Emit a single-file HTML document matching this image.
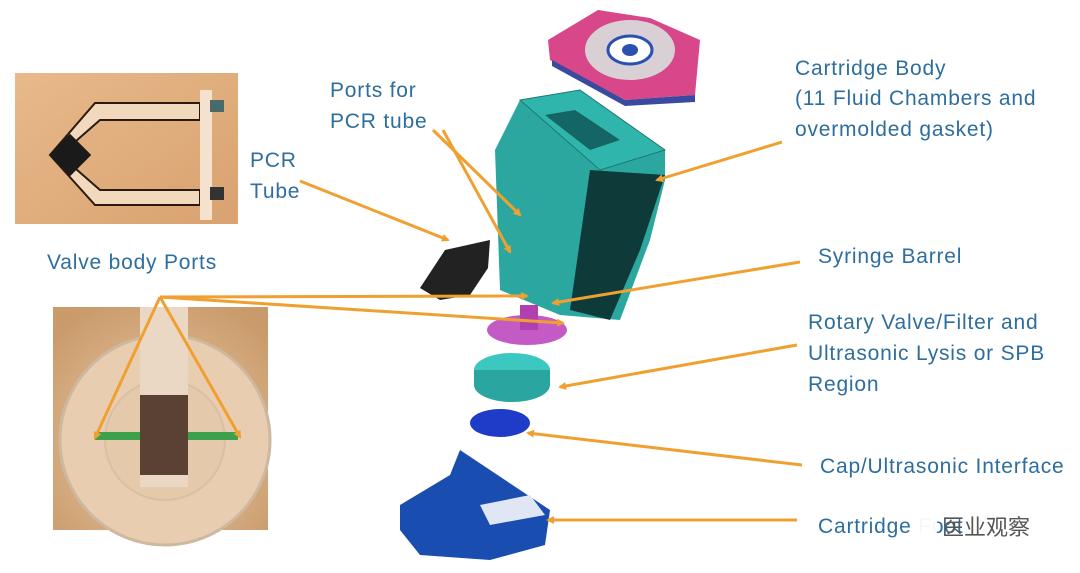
<!DOCTYPE html>
<html><head><meta charset="utf-8"><style>
html,body{margin:0;padding:0;background:#fff}
svg{display:block}
text{font-family:"Liberation Sans","Noto Sans CJK SC",sans-serif;font-size:21px;letter-spacing:0.8px;fill:#2e6e9e}
</style></head><body>
<svg width="1080" height="573" viewBox="0 0 1080 573" xmlns="http://www.w3.org/2000/svg">
<defs>
<marker id="a" markerWidth="8" markerHeight="8" refX="6" refY="4" orient="auto" markerUnits="userSpaceOnUse"><path d="M0,0 L8,4 L0,8 z" fill="#f0a030"/></marker>
<linearGradient id="bg1" x1="0" y1="0" x2="1" y2="1"><stop offset="0" stop-color="#e8b98a"/><stop offset="1" stop-color="#d9a270"/></linearGradient>
<radialGradient id="bg2" cx="0.5" cy="0.6" r="0.7"><stop offset="0" stop-color="#e9c9a6"/><stop offset="1" stop-color="#c99a6a"/></radialGradient>
</defs>
<rect x="15" y="73" width="223" height="151" fill="url(#bg1)"/>
<path d="M50,155 L95,103 L200,103 L200,120 L100,120 L60,155 L100,190 L200,190 L200,205 L95,205 Z" fill="#f2d8bc" stroke="#2a1a10" stroke-width="2"/>
<rect x="55" y="140" width="30" height="30" transform="rotate(45 70 155)" fill="#1a1a1a"/>
<rect x="200" y="90" width="12" height="130" fill="#f4e2cf"/>
<rect x="210" y="100" width="14" height="12" fill="#4a6a6a"/><rect x="210" y="187" width="14" height="13" fill="#333"/>
<rect x="53" y="307" width="215" height="223" fill="url(#bg2)"/>
<circle cx="165" cy="440" r="105" fill="#e8cdb0" stroke="#cdb8a0" stroke-width="3"/>
<circle cx="165" cy="440" r="60" fill="#e4c9aa" stroke="#d8c0a6" stroke-width="2"/>
<rect x="140" y="307" width="48" height="180" fill="#ead8c4"/>
<rect x="140" y="395" width="48" height="80" fill="#5b4034"/>
<rect x="95" y="432" width="45" height="8" fill="#3da04a"/><rect x="188" y="432" width="50" height="8" fill="#3da04a"/>
<path d="M548,40 L598,10 L650,18 L700,40 L695,95 L625,100 L550,60 Z" fill="#d8478a"/>
<path d="M552,60 L625,100 L695,95 L695,102 L625,106 L552,66 Z" fill="#3a4aa0"/>
<ellipse cx="630" cy="50" rx="45" ry="30" fill="#d8d0d4"/>
<ellipse cx="630" cy="50" rx="22" ry="14" fill="#fff" stroke="#2a50b0" stroke-width="3"/>
<ellipse cx="630" cy="50" rx="8" ry="6" fill="#2a50b0"/>
<path d="M520,100 L580,90 L665,150 L665,180 L650,240 L620,320 L560,315 L500,290 L495,150 Z" fill="#2ba7a0"/>
<path d="M590,170 L665,175 L640,250 L610,320 L570,310 Z" fill="#0f3a3a"/>
<path d="M520,100 L580,90 L665,150 L600,170 Z" fill="#30b5ad" stroke="#1a7a75"/>
<path d="M545,115 L575,110 L620,140 L590,150 Z" fill="#136663"/>
<path d="M420,288 L445,250 L490,240 L488,268 L470,295 L440,300 Z" fill="#222"/>
<ellipse cx="527" cy="330" rx="40" ry="15" fill="#c45bc4"/>
<rect x="520" y="305" width="18" height="25" fill="#b040b0"/>
<ellipse cx="512" cy="370" rx="38" ry="17" fill="#3cc7c0"/>
<path d="M474,370 L474,385 A38,17 0 0 0 550,385 L550,370 Z" fill="#2aa5a0"/>
<ellipse cx="500" cy="423" rx="30" ry="14" fill="#1e3cc8"/>
<path d="M400,505 L450,475 L460,450 L520,490 L550,510 L545,545 L490,560 L420,555 L400,530 Z" fill="#1a4db0"/>
<path d="M480,505 L530,495 L545,515 L490,525 Z" fill="#e0e6f4"/>
<g stroke="#f0a030" stroke-width="3" fill="none" marker-end="url(#a)">
<line x1="782" y1="142" x2="657" y2="180"/>
<line x1="433" y1="130" x2="520" y2="215"/>
<line x1="443" y1="130" x2="510" y2="252"/>
<line x1="300" y1="181" x2="448" y2="240"/>
<line x1="800" y1="262" x2="553" y2="303"/>
<line x1="160" y1="297" x2="527" y2="296"/>
<line x1="160" y1="297" x2="563" y2="323"/>
<line x1="160" y1="297" x2="95" y2="438"/>
<line x1="160" y1="297" x2="240" y2="437"/>
<line x1="797" y1="345" x2="560" y2="387"/>
<line x1="802" y1="465" x2="528" y2="433"/>
<line x1="797" y1="520" x2="548" y2="520"/>
</g>
<text x="795" y="75">Cartridge Body</text>
<text x="795" y="105">(11 Fluid Chambers and</text>
<text x="795" y="136">overmolded gasket)</text>
<text x="330" y="97">Ports for</text>
<text x="330" y="128">PCR tube</text>
<text x="250" y="167">PCR</text>
<text x="250" y="198">Tube</text>
<text x="47" y="269">Valve body Ports</text>
<text x="818" y="263">Syringe Barrel</text>
<text x="808" y="329">Rotary Valve/Filter and</text>
<text x="808" y="360">Ultrasonic Lysis or SPB</text>
<text x="808" y="391">Region</text>
<text x="820" y="473">Cap/Ultrasonic Interface</text>
<text x="818" y="533">Cartridge Foot</text>
<circle cx="925" cy="527" r="13" fill="#fff" opacity="0.95"/>
<text x="942" y="535" style="font-size:22px;letter-spacing:0;fill:#555">医业观察</text>
</svg>
</body></html>
